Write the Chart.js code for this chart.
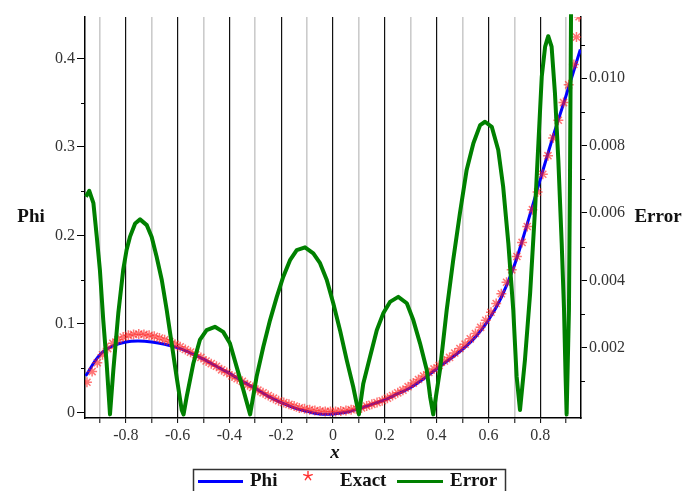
<!DOCTYPE html>
<html><head><meta charset="utf-8">
<script src="https://cdn.jsdelivr.net/npm/chart.js@4/dist/chart.umd.min.js"></script>
<style>html,body{margin:0;padding:0;background:#fff;}canvas{display:block;}</style>
</head><body>
<canvas id="c" width="689" height="491"></canvas>
<script>
// ---- data ----
const phiX = [-0.955,-0.90,-0.85,-0.80,-0.75,-0.70,-0.65,-0.60,-0.55,-0.50,-0.45,-0.40,-0.35,-0.30,-0.25,-0.20,-0.15,-0.10,-0.05,0.00,
  0.05,0.10,0.15,0.20,0.25,0.30,0.35,0.40,0.45,0.50,0.55,0.60,0.65,0.70,0.75,0.80,0.85,0.90,0.955];
const phiY = [0.041,0.065,0.075,0.0795,0.0805,0.0795,0.077,0.073,0.067,0.060,0.052,0.044,0.035,0.027,0.018,0.011,0.005,0.001,-0.002,-0.002,
  0.000,0.004,0.009,0.014,0.021,0.028,0.038,0.049,0.060,0.071,0.085,0.104,0.130,0.166,0.213,0.263,0.312,0.358,0.410];

const exactX = [-0.95,-0.93,-0.91,-0.89,-0.87,-0.85,-0.83,-0.81,-0.79,-0.77,-0.75,-0.73,-0.71,-0.69,-0.67,-0.65,-0.63,-0.61,-0.59,-0.57,
  -0.55,-0.53,-0.51,-0.49,-0.47,-0.45,-0.43,-0.41,-0.39,-0.37,-0.35,-0.33,-0.31,-0.29,-0.27,-0.25,-0.23,-0.21,-0.19,-0.17,
  -0.15,-0.13,-0.11,-0.09,-0.07,-0.05,-0.03,-0.01,0.01,0.03,0.05,0.07,0.09,0.11,0.13,0.15,0.17,0.19,0.21,0.23,
  0.25,0.27,0.29,0.31,0.33,0.35,0.37,0.39,0.41,0.43,0.45,0.47,0.49,0.51,0.53,0.55,0.57,0.59,0.61,0.63,
  0.65,0.67,0.69,0.71,0.73,0.75,0.77,0.79,0.81,0.83,0.85,0.87,0.89,0.91,0.93,0.94,0.95];
const exactY = [0.034,0.046,0.056,0.065,0.072,0.078,0.082,0.085,0.087,0.088,0.0885,0.088,0.087,0.086,0.084,0.082,0.080,0.077,0.074,0.071,
  0.068,0.065,0.062,0.058,0.055,0.052,0.048,0.045,0.041,0.038,0.035,0.031,0.028,0.025,0.022,0.019,0.016,0.013,0.011,0.009,
  0.007,0.005,0.004,0.003,0.002,0.0015,0.001,0.001,0.001,0.0015,0.002,0.003,0.004,0.005,0.007,0.009,0.011,0.013,0.016,0.019,
  0.022,0.025,0.029,0.033,0.037,0.041,0.045,0.049,0.053,0.058,0.062,0.067,0.072,0.077,0.083,0.089,0.096,0.104,0.113,0.123,
  0.134,0.147,0.161,0.176,0.192,0.210,0.229,0.249,0.269,0.290,0.310,0.330,0.350,0.370,0.393,0.424,0.447];

const errX = [-0.954,-0.941,-0.925,-0.912,-0.900,-0.887,-0.874,-0.861,
  -0.848,-0.829,-0.810,-0.797,-0.784,-0.764,-0.745,-0.719,-0.700,-0.681,-0.661,-0.642,-0.623,-0.604,-0.584,-0.577,
  -0.565,-0.539,-0.514,-0.488,-0.456,-0.424,-0.398,-0.372,-0.346,-0.320,
  -0.295,-0.269,-0.243,-0.217,-0.192,-0.166,-0.140,-0.108,-0.076,-0.050,-0.024,0.001,0.027,0.053,0.078,0.100,
  0.117,0.143,0.169,0.194,0.220,0.252,0.285,0.310,0.336,0.362,0.375,0.387,
  0.413,0.439,0.464,0.490,0.516,0.542,0.568,0.587,0.613,0.638,0.657,0.677,0.696,0.709,0.722,
  0.741,0.761,0.780,0.793,0.806,0.819,0.831,0.844,0.857,0.870,0.883,0.892,0.898,0.902,
  0.911,0.915,0.919];
const errY = [0.00648,0.00666,0.00629,0.00529,0.00431,0.00282,0.00154,0.00002,
  0.00134,0.00302,0.00431,0.00490,0.00529,0.00569,0.00581,0.00564,0.00529,0.00470,0.00401,0.00312,0.00213,0.00114,0.00015,0.00002,
  0.00054,0.00154,0.00223,0.00252,0.00262,0.00247,0.00213,0.00143,0.00074,0.00002,
  0.00114,0.00203,0.00282,0.00351,0.00411,0.00460,0.00490,0.00498,0.00480,0.00451,0.00401,0.00332,0.00252,0.00163,0.00084,0.00002,
  0.00094,0.00173,0.00252,0.00302,0.00336,0.00351,0.00332,0.00282,0.00213,0.00134,0.00054,0.00002,
  0.00134,0.00312,0.00460,0.00599,0.00728,0.00807,0.00861,0.00871,0.00856,0.00787,0.00678,0.00510,0.00312,0.00114,0.00015,
  0.00163,0.00361,0.00609,0.00807,0.01005,0.01094,0.01125,0.01094,0.00955,0.00757,0.00510,0.00312,0.00114,0.00002,
  0.00312,0.00708,0.0119];

const seriesNames = ['Phi','Exact','Error'];
const axisTitles = {x:'x', y:'Phi', y2:'Error'};
const phiMinorTicks = [0.05,0.15,0.25,0.35];
const errMinorTicks = [0.001,0.003,0.005,0.007,0.009,0.011];

// ---- rendering ----
const SERIF = '"Liberation Serif", "Times New Roman", serif';
const toPts = (xs, ys) => xs.map((x,i)=>({x:x, y:ys[i]}));
const isMajorX = v => Math.abs(Math.round(v*10)) % 2 === 0;

function drawAsterisk(ctx, cx, cy, r, color){
  ctx.save();
  ctx.strokeStyle = color; ctx.lineWidth = 1.4; ctx.lineCap = 'round';
  for (let k = 0; k < 5; k++){
    const a = -Math.PI/2 + k*2*Math.PI/5;
    ctx.beginPath(); ctx.moveTo(cx, cy); ctx.lineTo(cx + r*Math.cos(a), cy + r*Math.sin(a)); ctx.stroke();
  }
  ctx.restore();
}

const extras = {
  id:'extras',
  afterDraw(chart){
    const ctx = chart.ctx, s = chart.scales, ca = chart.chartArea;
    ctx.save();
    ctx.strokeStyle = '#000'; ctx.lineWidth = 1;
    phiMinorTicks.forEach(v=>{ const p=Math.round(s.y.getPixelForValue(v))+0.5; ctx.beginPath(); ctx.moveTo(s.y.right-4,p); ctx.lineTo(s.y.right,p); ctx.stroke(); });
    errMinorTicks.forEach(v=>{ const p=Math.round(s.y2.getPixelForValue(v))+0.5; ctx.beginPath(); ctx.moveTo(s.y2.left,p); ctx.lineTo(s.y2.left+4,p); ctx.stroke(); });
    // axis titles
    ctx.fillStyle = '#111'; ctx.textBaseline = 'middle';
    ctx.font = 'bold 19px ' + SERIF; ctx.textAlign = 'center';
    const midY = (ca.top + ca.bottom)/2;
    ctx.fillText(axisTitles.y, 31, midY);
    ctx.fillText(axisTitles.y2, 658, midY);
    ctx.font = 'bold italic 19px ' + SERIF;
    ctx.fillText(axisTitles.x, (ca.left+ca.right)/2 + 2, 453);
    // legend
    ctx.strokeStyle = '#333'; ctx.lineWidth = 1.5;
    ctx.strokeRect(193.5, 469.5, 312, 30);
    const ly = 481.5;
    ctx.lineWidth = 3;
    ctx.strokeStyle = '#0000ff'; ctx.beginPath(); ctx.moveTo(198, ly); ctx.lineTo(243, ly); ctx.stroke();
    ctx.strokeStyle = '#008000'; ctx.beginPath(); ctx.moveTo(397, ly); ctx.lineTo(443, ly); ctx.stroke();
    drawAsterisk(ctx, 308, 476, 4.5, '#ff3030');
    ctx.fillStyle = '#111'; ctx.textAlign = 'left'; ctx.font = 'bold 19px ' + SERIF;
    ctx.fillText(seriesNames[0], 250, ly);
    ctx.fillText(seriesNames[1], 340, ly);
    ctx.fillText(seriesNames[2], 450, ly);
    ctx.restore();
  }
};

const tickFont = {family: SERIF, size: 16};
new Chart(document.getElementById('c'), {
  type: 'line',
  data: {
    datasets: [
      {label: seriesNames[0], data: toPts(phiX, phiY), yAxisID: 'y', borderColor: '#0000ff', borderWidth: 3,
       pointRadius: 0, tension: 0.4, fill: false, order: 2},
      {label: seriesNames[1], data: toPts(exactX, exactY), yAxisID: 'y', showLine: false, pointStyle: 'star',
       pointRadius: 5, borderColor: 'rgba(255,30,30,0.62)', backgroundColor: 'rgba(255,30,30,0.62)', pointBorderWidth: 1.5, order: 1},
      {label: seriesNames[2], data: toPts(errX, errY), yAxisID: 'y2', borderColor: '#008000', borderWidth: 4,
       pointRadius: 0, tension: 0, fill: false, borderJoinStyle: 'round', clip: false, order: 0}
    ]
  },
  options: {
    responsive: false, animation: false, devicePixelRatio: 1,
    layout: {padding: {top: 17, left: 0, right: 0, bottom: 0}},
    plugins: {legend: {display: false}, tooltip: {enabled: false}},
    scales: {
      x: {type: 'linear', min: -0.9575, max: 0.9575,
          ticks: {stepSize: 0.1, includeBounds: false, autoSkip: false, maxRotation: 0, padding: 3,
                  font: tickFont, color: '#333',
                  callback: v => isMajorX(v) ? (Math.abs(v) < 1e-9 ? '0' : (Math.round(v*10)/10).toFixed(1)) : ''},
          grid: {color: c => (c.tick && isMajorX(c.tick.value)) ? '#111' : '#cbcbcb',
                 lineWidth: c => (c.tick && isMajorX(c.tick.value)) ? 1.2 : 1.6,
                 tickColor: '#000', tickLength: 5, tickWidth: 1},
          border: {color: '#000', width: 1.5},
          afterFit: sc => { sc.height = 73; }},
      y: {type: 'linear', position: 'left', min: -0.00644, max: 0.4467,
          ticks: {stepSize: 0.1, includeBounds: false, padding: 2, font: tickFont, color: '#333',
                  callback: v => Math.abs(v) < 1e-9 ? '0' : (Math.round(v*10)/10).toString()},
          grid: {drawOnChartArea: false, tickColor: '#000', tickLength: 8},
          border: {color: '#000', width: 1.5},
          afterFit: sc => { sc.width = 85; }},
      y2: {type: 'linear', position: 'right', min: -0.0000876, max: 0.01182,
          ticks: {stepSize: 0.002, includeBounds: false, padding: 2, font: tickFont, color: '#333',
                  callback: v => Math.abs(v) < 1e-9 ? '' : v.toFixed(3)},
          grid: {drawOnChartArea: false, tickColor: c => (c.tick && Math.abs(c.tick.value) < 1e-9) ? 'rgba(0,0,0,0)' : '#000', tickLength: 6},
          border: {color: '#000', width: 1.5},
          afterFit: sc => { sc.width = 108; }}
    }
  },
  plugins: [extras]
});
</script>
</body></html>
